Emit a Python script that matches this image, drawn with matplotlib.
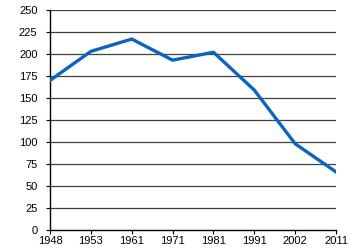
import matplotlib
matplotlib.use("Agg")
import matplotlib.pyplot as plt

years = ["1948", "1953", "1961", "1971", "1981", "1991", "2002", "2011"]
values = [170, 203, 217, 193, 202, 159, 98, 66]
yticks = [0, 25, 50, 75, 100, 125, 150, 175, 200, 225, 250]

plt.rcParams['font.family'] = ['Liberation Sans', 'DejaVu Sans']

fig = plt.figure(figsize=(3.5, 2.5), dpi=100)
ax = fig.add_axes([0.143, 0.08, 0.817, 0.88])
x = list(range(len(years)))
ax.plot(x, values, color='#0a64c0', lw=2.4, solid_joinstyle='round', zorder=3)
ax.set_xlim(0, len(years) - 1)
ax.set_ylim(0, 250)
ax.set_xticks(x)
ax.set_xticklabels(years)
ax.set_yticks(yticks)
for y in yticks[1:]:
    ax.axhline(y, color='#404040', lw=0.9, zorder=1)
for s in ['top', 'right']:
    ax.spines[s].set_visible(False)
for s in ['left', 'bottom']:
    ax.spines[s].set_color('black')
    ax.spines[s].set_linewidth(1.0)
ax.tick_params(axis='both', labelsize=8, length=3, width=0.8, color='black')
ax.tick_params(axis='x', pad=1.5)
ax.tick_params(axis='y', pad=6)
fig.savefig("out.png", dpi=100)
